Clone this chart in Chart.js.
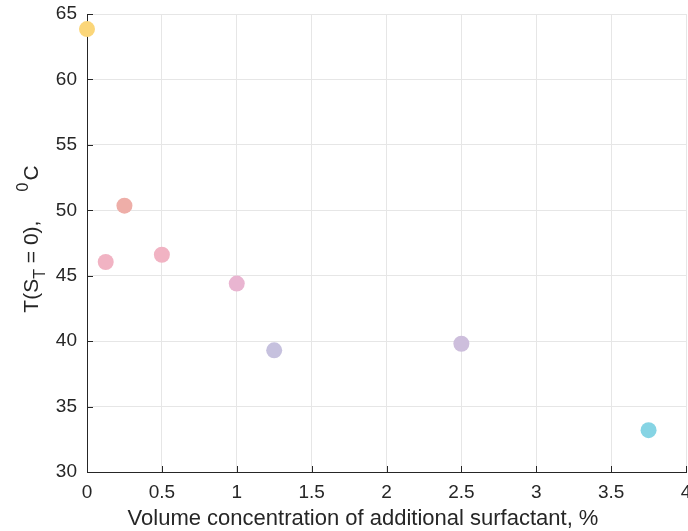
<!DOCTYPE html>
<html>
<head>
<meta charset="utf-8">
<script src="https://cdn.jsdelivr.net/npm/chart.js@4/dist/chart.umd.min.js"></script>
<style>
  html, body { margin: 0; padding: 0; background: #fff; }
  #wrap { width: 688px; height: 531px; }
</style>
</head>
<body>
<div id="wrap"><canvas id="myChart"></canvas></div>
<script>
const concentration = [0, 0.125, 0.25, 0.5, 1, 1.25, 2.5, 3.75];
const tempAtZero = [63.85, 46.05, 50.35, 46.6, 44.4, 39.3, 39.8, 33.2];
const pointColors = ['#fbd679', '#f1b3c3', '#eeaea8', '#f1b3c3', '#e9b5d1', '#c6c1de', '#cdbedc', '#86d4e4'];
const xTicks = [0, 0.5, 1, 1.5, 2, 2.5, 3, 3.5, 4];
const xTitle = 'Volume concentration of additional surfactant, %';

const FONT = '"Liberation Sans", Arial, sans-serif';
const TXT = '#262626';

// x tick labels, axis titles (y one has sub/superscript), MATLAB style inner ticks
const decorations = {
  id: 'decorations',
  afterDraw(chart) {
    const ctx = chart.ctx;
    const xs = chart.scales.x, ys = chart.scales.y;
    ctx.save();
    ctx.strokeStyle = TXT;
    ctx.lineWidth = 1;
    xs.ticks.forEach(t => {
      const px = Math.round(xs.getPixelForValue(t.value)) + 0.5;
      ctx.beginPath();
      ctx.moveTo(px, ys.bottom);
      ctx.lineTo(px, ys.bottom - 6);
      ctx.stroke();
    });
    ys.ticks.forEach(t => {
      const py = Math.round(ys.getPixelForValue(t.value)) + 0.5;
      ctx.beginPath();
      ctx.moveTo(xs.left, py);
      ctx.lineTo(xs.left + 6, py);
      ctx.stroke();
    });

    ctx.fillStyle = TXT;
    ctx.textAlign = 'center';
    ctx.textBaseline = 'middle';
    ctx.font = '19px ' + FONT;
    xTicks.forEach(v => ctx.fillText(String(v), xs.getPixelForValue(v), ys.bottom + 21));

    ctx.font = '22px ' + FONT;
    ctx.fillText(xTitle, 363, 519);
    ctx.restore();

    // y title
    ctx.save();
    ctx.translate(38, (ys.top + ys.bottom) / 2 - 3);
    ctx.rotate(-Math.PI / 2);
    ctx.fillStyle = TXT;
    ctx.textBaseline = 'alphabetic';
    const big = '21px ' + FONT, small = '16px ' + FONT;
    const parts = [
      ['T(S', big, 0],
      ['T', small, 7],
      [' = 0),     ', big, 0],
      ['0', small, -10],
      ['C', big, 0]
    ];
    let total = 0;
    parts.forEach(p => { ctx.font = p[1]; total += ctx.measureText(p[0]).width; });
    let x = -total / 2;
    parts.forEach(p => {
      ctx.font = p[1];
      ctx.fillText(p[0], x, p[2]);
      x += ctx.measureText(p[0]).width + (p[0] === '0' ? 2 : 0);
    });
    ctx.restore();
  }
};

const ctx = document.getElementById('myChart').getContext('2d');
new Chart(ctx, {
  type: 'scatter',
  data: {
    datasets: [{
      data: concentration.map((c, i) => ({ x: c, y: tempAtZero[i] })),
      backgroundColor: pointColors,
      borderColor: pointColors,
      pointRadius: 8,
      pointHoverRadius: 8,
      borderWidth: 0,
      clip: false
    }]
  },
  options: {
    responsive: true,
    maintainAspectRatio: false,
    animation: false,
    layout: { autoPadding: false, padding: { top: 14, right: 2, left: 0, bottom: 0 } },
    plugins: { legend: { display: false }, tooltip: { enabled: false } },
    scales: {
      x: {
        type: 'linear',
        min: 0, max: 4,
        ticks: { stepSize: 0.5, display: false },
        grid: { color: '#e6e6e6', drawTicks: false },
        border: { color: TXT, width: 1 },
        afterFit(scale) { scale.height = 59; }
      },
      y: {
        min: 30, max: 65,
        ticks: { stepSize: 5, color: TXT, font: { family: FONT, size: 19 }, padding: 10 },
        grid: { color: '#e6e6e6', drawTicks: false },
        border: { color: TXT, width: 1 },
        afterFit(scale) { scale.width = 87; scale.paddingTop = 0; scale.paddingBottom = 0; }
      }
    }
  },
  plugins: [decorations]
});
</script>
</body>
</html>
